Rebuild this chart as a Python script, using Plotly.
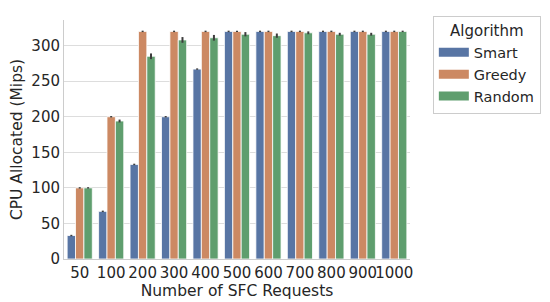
import plotly.graph_objects as go

requests = ["50", "100", "200", "300", "400", "500", "600", "700", "800", "900", "1000"]
smart = [33, 67, 133, 200, 267, 320, 320, 320, 320, 320, 320]
greedy = [100, 200, 320, 320, 320, 320, 320, 320, 320, 320, 320]
random_ = [100, 194, 285, 308, 311, 316, 314, 318, 316, 316, 320]
smart_err = [1, 1, 1, 1, 1, 1, 1, 1, 1, 1, 1]
greedy_err = [1, 1, 1, 1, 1, 1, 1, 1, 1, 1, 1]
random_err = [1, 2, 4, 4, 4, 3, 3, 2, 2, 2, 1]

series = [
    ("Smart", smart, smart_err, "#5875A4"),
    ("Greedy", greedy, greedy_err, "#CC8963"),
    ("Random", random_, random_err, "#5F9E6E"),
]

FONT = "DejaVu Sans, sans-serif"

fig = go.Figure()
for name, vals, errs, color in series:
    fig.add_trace(go.Bar(
        name=name,
        x=requests,
        y=vals,
        showlegend=False,
        marker=dict(color=color, line=dict(color="white", width=0.8)),
        error_y=dict(type="data", array=errs, visible=True,
                     color="#3d3d3d", thickness=2, width=0),
    ))

# legend patches drawn as thick lines so they look like wide rectangles
for name, _, _, color in series:
    fig.add_trace(go.Scatter(
        name=name,
        x=[None],
        y=[None],
        mode="lines",
        line=dict(color=color, width=9),
    ))

# the page body adds an 8px margin, so the figure is a bit smaller than the window
fig.update_layout(
    barmode="group",
    bargap=0.2,
    bargroupgap=0,
    width=542,
    height=294,
    margin=dict(l=56, r=140, t=12, b=43, autoexpand=False),
    plot_bgcolor="white",
    paper_bgcolor="white",
    font=dict(family=FONT, size=15, color="#262626"),
    xaxis=dict(
        title=dict(text="Number of SFC Requests", font=dict(size=15.5), standoff=0),
        tickangle=0,
        showgrid=False,
        showline=True,
        linecolor="#cccccc",
        linewidth=1,
        ticks="",
        tickfont=dict(size=15),
        automargin=True,
    ),
    yaxis=dict(
        title=dict(text="CPU Allocated (Mips)", font=dict(size=15.5), standoff=5),
        range=[0, 336],
        tickvals=[0, 50, 100, 150, 200, 250, 300],
        showgrid=True,
        gridcolor="#dddddd",
        gridwidth=1,
        showline=True,
        linecolor="#cccccc",
        linewidth=1,
        zeroline=False,
        ticks="",
        tickfont=dict(size=15),
        automargin=True,
    ),
    legend=dict(
        title=dict(text="Algorithm", side="top center", font=dict(size=15)),
        x=1.066,
        xanchor="left",
        y=1.017,
        yanchor="top",
        bordercolor="#cccccc",
        borderwidth=1,
        font=dict(size=14.5),
        itemwidth=30,
        tracegroupgap=0,
    ),
)

fig.write_html("out.html")
